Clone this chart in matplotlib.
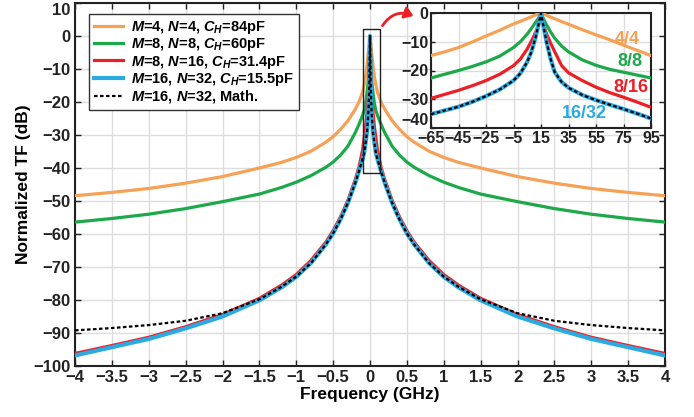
import matplotlib
matplotlib.use("Agg")
import matplotlib.pyplot as plt
from matplotlib.patches import Rectangle, FancyArrowPatch

plt.rcParams['font.family'] = ['Liberation Sans', 'DejaVu Sans']
plt.rcParams['font.weight'] = 'bold'
plt.rcParams['mathtext.fontset'] = 'custom'
plt.rcParams['mathtext.it'] = 'Liberation Sans:italic:bold'
plt.rcParams['mathtext.rm'] = 'Liberation Sans:bold'
plt.rcParams['mathtext.bf'] = 'Liberation Sans:bold'

# ---------------- data (main plot, GHz / dB) ----------------
freq = [-4, -3.5, -3, -2.5, -2, -1.5, -1.2, -1, -0.8, -0.6, -0.5, -0.4, -0.3, -0.2, -0.15,
        -0.1, -0.08, -0.06, -0.04, -0.02, -0.01, 0, 0.01, 0.02, 0.04, 0.06, 0.08, 0.1,
        0.15, 0.2, 0.3, 0.4, 0.5, 0.6, 0.8, 1, 1.2, 1.5, 2, 2.5, 3, 3.5, 4]
tf_4_4 = [-48.4, -47.4, -46.2, -44.6, -42.6, -40.0, -38.3, -36.8, -34.9, -32.2, -30.5, -28.3,
          -25.7, -22.2, -20.0, -17.0, -14.8, -12.3, -8.8, -4.5, -2.3, 0, -2.3, -4.5, -8.8,
          -12.3, -14.8, -17.0, -20.0, -22.2, -25.7, -28.3, -30.5, -32.2, -34.9, -36.8,
          -38.3, -40.0, -42.6, -44.6, -46.2, -47.4, -48.4]
tf_8_8 = [-56.4, -55.3, -54.0, -52.3, -50.2, -47.9, -45.9, -44.3, -42.3, -39.8, -38.2, -36.1,
          -33.4, -29.3, -26.8, -24.0, -22.6, -20.5, -17.0, -13.0, -7.5, 0, -7.5, -13.0, -17.0,
          -20.5, -22.6, -24.0, -26.8, -29.3, -33.4, -36.1, -38.2, -39.8, -42.3, -44.3,
          -45.9, -47.9, -50.2, -52.3, -54.0, -55.3, -56.4]
tf_8_16 = [-96.2, -93.8, -91.3, -88.1, -84.4, -79.5, -75.5, -72.3, -68.0, -62.5, -59.0, -54.8,
           -49.8, -43.5, -39.8, -34.5, -31.0, -27.5, -23.0, -18.0, -10.0, 0, -10.0, -18.0,
           -23.0, -27.5, -31.0, -34.5, -39.8, -43.5, -49.8, -54.8, -59.0, -62.5, -68.0,
           -72.3, -75.5, -79.5, -84.4, -88.1, -91.3, -93.8, -96.2]
tf_16_32 = [-96.8, -94.3, -91.8, -88.6, -85.0, -80.1, -76.2, -73.0, -68.8, -63.2, -59.8, -55.6,
            -50.6, -44.5, -41.0, -37.2, -35.5, -32.5, -29.0, -22.5, -15.0, 0, -15.0, -22.5,
            -29.0, -32.5, -35.5, -37.2, -41.0, -44.5, -50.6, -55.6, -59.8, -63.2, -68.8,
            -73.0, -76.2, -80.1, -85.0, -88.6, -91.8, -94.3, -96.8]
tf_math = [-89.2, -88.5, -87.6, -86.3, -84.0, -79.8, -76.0, -72.9, -68.8, -63.2, -59.8, -55.6,
           -50.6, -44.5, -41.0, -37.2, -35.5, -32.5, -29.0, -22.5, -15.0, 0, -15.0, -22.5,
           -29.0, -32.5, -35.5, -37.2, -41.0, -44.5, -50.6, -55.6, -59.8, -63.2, -68.8,
           -72.9, -76.0, -79.8, -84.0, -86.3, -87.6, -88.5, -89.2]

# ---------------- data (inset, MHz / dB) ----------------
freq_in = [-65, -55, -45, -35, -25, -15, -5, 0, 5, 8, 11, 13, 15, 17, 19, 22, 25, 30, 35,
           45, 55, 65, 75, 85, 95]
in_4_4 = [-14.8, -13.5, -12.0, -10.1, -8.0, -6.0, -3.8, -2.9, -1.9, -1.3, -0.7, -0.4, 0,
          -0.4, -0.8, -1.4, -2.0, -3.0, -3.9, -5.8, -7.6, -9.3, -11.2, -13.0, -14.8]
in_8_8 = [-22.6, -21.3, -20.0, -18.6, -17.0, -15.0, -12.0, -10.0, -7.3, -5.4, -3.3, -2.0, 0,
          -2.3, -4.1, -6.6, -8.8, -11.5, -13.5, -16.3, -18.2, -19.6, -20.6, -21.6, -22.6]
in_8_16 = [-29.7, -28.3, -26.9, -25.3, -23.5, -21.3, -18.3, -16.0, -12.5, -9.8, -6.8, -4.5, 0,
           -4.5, -7.2, -10.5, -13.5, -18.3, -20.8, -23.5, -25.8, -27.7, -29.3, -31.0, -32.8]
in_16_32 = [-35.2, -33.9, -32.6, -30.9, -28.9, -26.6, -23.5, -21.0, -17.0, -13.5, -8.6, -4.5, 0,
            -5.0, -10.0, -16.0, -20.6, -24.0, -26.0, -28.5, -30.3, -31.9, -33.4, -35.0, -36.7]
in_math = [-35.2, -33.9, -32.6, -30.9, -28.9, -26.6, -23.5, -21.0, -17.0, -13.5, -8.6, -4.5, 0,
           -5.0, -10.0, -16.0, -20.6, -24.0, -26.0, -28.5, -30.3, -31.9, -33.4, -35.0, -36.7]

labels = [r'$M$=4, $N$=4, $C_H$=84pF',
          r'$M$=8, $N$=8, $C_H$=60pF',
          r'$M$=8, $N$=16, $C_H$=31.4pF',
          r'$M$=16, $N$=32, $C_H$=15.5pF',
          r'$M$=16, $N$=32, Math.']
inset_tags = ['4/4', '8/8', '8/16', '16/32']
xticks_main = [-4, -3.5, -3, -2.5, -2, -1.5, -1, -0.5, 0, 0.5, 1, 1.5, 2, 2.5, 3, 3.5, 4]
xtick_labels_main = ['\u22124', '\u22123.5', '\u22123', '\u22122.5', '\u22122', '\u22121.5',
                     '\u22121', '\u22120.5', '0', '0.5', '1', '1.5', '2', '2.5', '3', '3.5', '4']
yticks_main = [-100, -90, -80, -70, -60, -50, -40, -30, -20, -10, 0, 10]
xticks_in = [-65, -45, -25, -5, 15, 35, 55, 75, 95]
yticks_in = [-40, -30, -20, -10, 0]

C_OR = '#F7A156'
C_GR = '#1DA84A'
C_RD = '#EC1F26'
C_BL = '#2BAAE2'


def fmt(v):
    return ('\u2212%d' % -v) if v < 0 else '%d' % v


W, H = 694, 417
fig = plt.figure(figsize=(W / 100, H / 100), dpi=100)
ax = fig.add_axes([75 / W, 1 - 366 / H, 590 / W, 363 / H])

lw = 2.3
ax.plot(freq, tf_4_4, color=C_OR, lw=lw, label=labels[0], zorder=3)
ax.plot(freq, tf_8_8, color=C_GR, lw=lw, label=labels[1], zorder=3)
ax.plot(freq, tf_8_16, color=C_RD, lw=lw, label=labels[2], zorder=3)
ax.plot(freq, tf_16_32, color=C_BL, lw=3.0, label=labels[3], zorder=4)
ax.plot(freq, tf_math, color='black', lw=1.6, ls=(0, (1.6, 1.1)), label=labels[4], zorder=5)

ax.set_xlim(-4, 4)
ax.set_ylim(-100, 10)
ax.set_xticks(xticks_main)
ax.set_xticklabels(xtick_labels_main)
ax.set_yticks(yticks_main)
ax.set_yticklabels([fmt(v) for v in yticks_main])
ax.grid(True, color='#dddddd', lw=1.0, zorder=0)
ax.set_axisbelow(True)
ax.tick_params(direction='in', length=4, width=1, top=True, right=True,
               labelsize=12, pad=3, colors='#222222')
# keep the topmost y label inside the figure
ax.get_yticklabels()[-1].set_verticalalignment('top')
for sp in ax.spines.values():
    sp.set_linewidth(1.5)
    sp.set_color('#222222')
ax.set_xlabel('Frequency (GHz)', fontsize=12.5, fontweight='bold', labelpad=1)
ax.set_ylabel('Normalized TF (dB)', fontsize=12.5, fontweight='bold', labelpad=2)

leg = ax.legend(loc='upper left', bbox_to_anchor=(0.024, 0.97), fontsize=10.5,
                frameon=True, fancybox=False, edgecolor='#333333', framealpha=1,
                handlelength=2.0, labelspacing=0.02, borderpad=0.35, handletextpad=0.5,
                borderaxespad=0)
leg.get_frame().set_linewidth(1.0)

# highlight box around the peak
ax.add_patch(Rectangle((-0.1, -41.5), 0.235, 43.5, fill=False, ec='#222222', lw=1.0,
                       joinstyle='round', zorder=6))

# curved arrow to inset
arr = FancyArrowPatch((381 / W, 1 - 28 / H), (416 / W, 1 - 17 / H),
                      transform=fig.transFigure, connectionstyle='arc3,rad=-0.45',
                      arrowstyle='-|>,head_length=5,head_width=3.5', color=C_RD, lw=2)
fig.patches.append(arr)

# inset
axi = fig.add_axes([431 / W, 1 - 128 / H, 220 / W, 115 / H])
axi.plot(freq_in, in_4_4, color=C_OR, lw=lw, zorder=3)
axi.plot(freq_in, in_8_8, color=C_GR, lw=lw, zorder=3)
axi.plot(freq_in, in_8_16, color=C_RD, lw=lw, zorder=3)
axi.plot(freq_in, in_16_32, color=C_BL, lw=3.0, zorder=4)
axi.plot(freq_in, in_math, color='black', lw=1.6, ls=(0, (1.6, 1.1)), zorder=5)
axi.set_xlim(-65, 95)
axi.set_ylim(-40, 0)
axi.set_xticks(xticks_in)
axi.set_xticklabels([fmt(v) for v in xticks_in])
axi.set_yticks(yticks_in)
axi.set_yticklabels([fmt(v) for v in yticks_in])
axi.grid(True, color='#dddddd', lw=1.0, zorder=0)
axi.set_axisbelow(True)
axi.tick_params(direction='in', length=3, width=1, labelsize=11.5, pad=2, colors='#222222')
axi.get_yticklabels()[0].set_verticalalignment('bottom')
for sp in axi.spines.values():
    sp.set_linewidth(1.5)
    sp.set_color('#222222')

tag_pos = [(87, -9.2), (88.5, -17.0), (93, -25.9), (63, -34.9)]
tag_col = [C_OR, C_GR, C_RD, C_BL]
for t, (x, y), c in zip(inset_tags, tag_pos, tag_col):
    axi.text(x, y, t, color=c, fontsize=13, fontweight='bold', ha='right', va='center',
             zorder=7)

fig.savefig('out.png', dpi=100)
